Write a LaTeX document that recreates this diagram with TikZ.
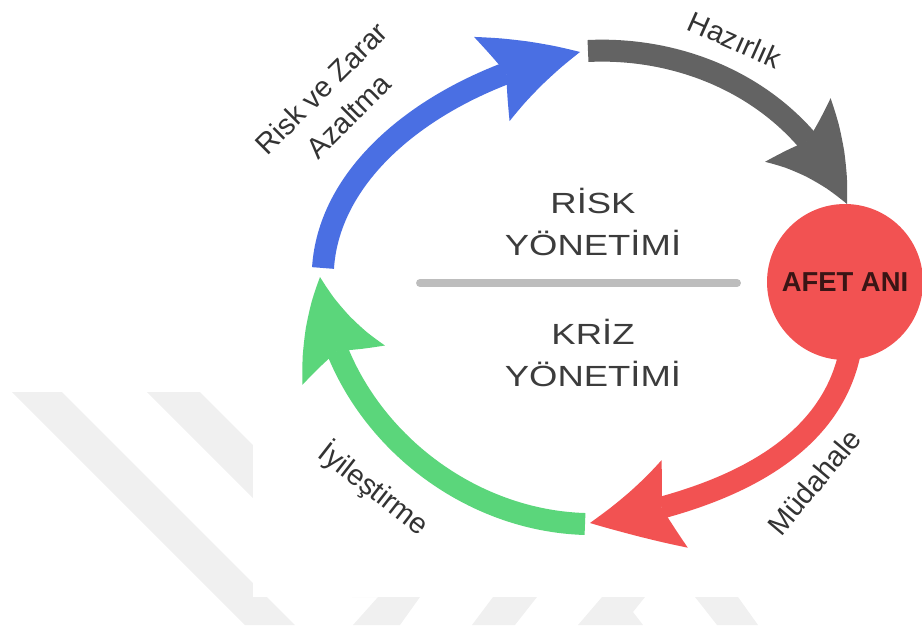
\documentclass[tikz,border=0pt]{standalone}
\usepackage{fontspec}
\setmainfont{Liberation Sans}
\newfontfamily\widefont[FakeStretch=1.25]{Liberation Sans}
\usetikzlibrary{arrows.meta,bending}

\definecolor{cycblue}{HTML}{4A6FE3}
\definecolor{cycgrey}{HTML}{636363}
\definecolor{cycred}{HTML}{F25252}
\definecolor{cycgreen}{HTML}{5BD67B}
\definecolor{labeltext}{HTML}{333333}
\definecolor{midtext}{HTML}{3C3C3C}
\definecolor{afettext}{HTML}{3A1515}
\definecolor{sepline}{HTML}{BDBDBD}
\definecolor{wmark}{HTML}{F0F0F0}

\tikzset{
  cycarrow/.style={line width=12.5pt,
    -{Stealth[length=53pt,width=52pt,inset=9pt,line width=0pt,bend]}},
  steplabel/.style={font=\fontsize{16.5}{22}\selectfont, text=labeltext,
    align=center, inner sep=0pt},
  midlabel/.style={font=\widefont\fontsize{16.6}{24.4}\selectfont,
    text=midtext, align=center, inner sep=0pt},
}

\begin{document}
\begin{tikzpicture}[x=0.02cm,y=-0.02cm]
  \useasboundingbox (0,0) rectangle (922,625);
  % watermark
  \fill[wmark] (12,392) -- (62,392) -- (295,625) -- (245,625) -- cycle;
  \fill[wmark] (147,392) -- (200,392) -- (405,597) -- (352,597) -- cycle;
  \fill[wmark] (378,597) -- (420,597) -- (400,625) -- (353,625) -- cycle;
  \fill[wmark] (493,597) -- (537,597) -- (515,625) -- (472,625) -- cycle;
  \fill[wmark] (602,597) -- (645,597) -- (633,612) -- (643,625) -- (578,625) -- cycle;
  \fill[wmark] (695,597) -- (738,597) -- (758,625) -- (717,625) -- cycle;
  \fill[white] (253,0) rectangle (922,597);

  \coordinate (btail) at (323,268);
  \coordinate (btip)  at (580,52);
  \coordinate (gtail) at (588,51);
  \coordinate (gtip)  at (847,204);
  \coordinate (rtail) at (852,340);
  \coordinate (rtip)  at (590,523);
  \coordinate (ntail) at (585,524);
  \coordinate (ntip)  at (320,277);

  \draw[cycarrow,cycblue]  (btail) .. controls (330,160) and (450,78) .. (btip);
  \draw[cycarrow,cycgrey]  (gtail) .. controls (690,46) and (800,95) .. (gtip);
  \draw[cycarrow,cycred]   (rtail) .. controls (840,430) and (760,495) .. (rtip);
  \draw[cycarrow,cycgreen] (ntail) .. controls (450,520) and (330,410) .. (ntip);

  \node[circle,fill=cycred,minimum size=3.12cm,inner sep=0pt,
        font=\bfseries\fontsize{15.6}{18}\selectfont,text=afettext] (afet) at (845,282) {AFET ANI};

  \node[midlabel] (risk) at (593,222) {RİSK\\YÖNETİMİ};
  \node[midlabel] (kriz) at (593,353) {KRİZ\\YÖNETİMİ};
  \coordinate (sepl) at (420,283);
  \coordinate (sepr) at (737,283);
  \draw[sepline,line width=4.5pt,line cap=round] (sepl) -- (sepr);

  \node[steplabel,rotate=45]  (azalt) at (335,102) {Risk ve Zarar\\Azaltma};
  \node[steplabel,rotate=-24] (hazir) at (735,40)  {Hazırlık};
  \node[steplabel,rotate=50]  (mudah) at (814,482) {Müdahale};
  \node[steplabel,rotate=-38] (iyile) at (374,489) {İyileştirme};
\end{tikzpicture}
\end{document}
